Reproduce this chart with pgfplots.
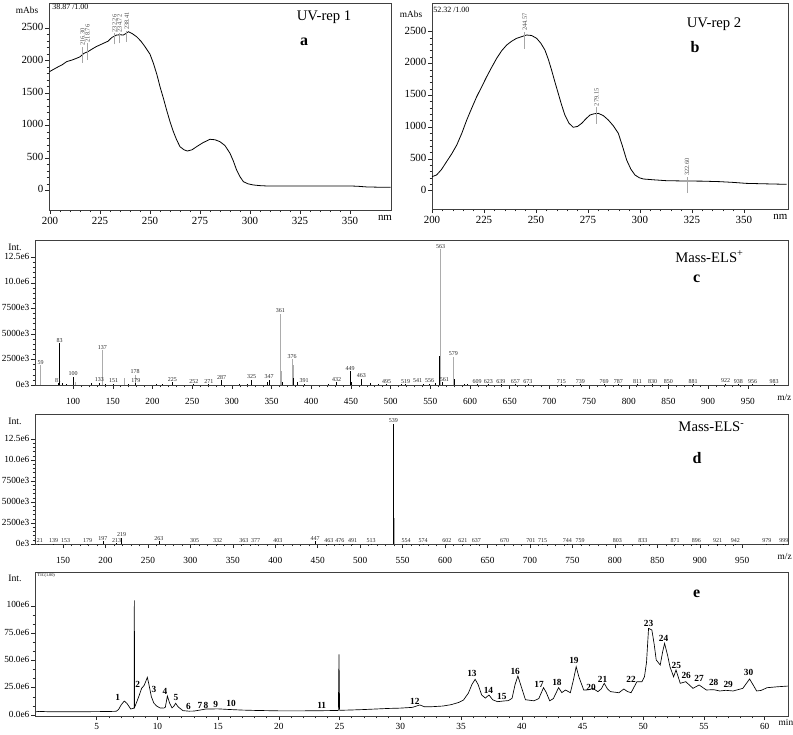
\documentclass[border=0pt]{standalone}
\usepackage{fontspec}
\setmainfont{Liberation Serif}
\usepackage{pgfplots}
\pgfplotsset{compat=1.18}
\newcommand{\fUV}{\fontsize{8.2}{9}\selectfont}
\newcommand{\fMS}{\fontsize{7}{8}\selectfont}
\newcommand{\fPk}{\fontsize{4.5}{5}\selectfont}
\newcommand{\fTitle}{\fontsize{11}{12}\selectfont}
\newcommand{\fLet}{\fontsize{12}{13}\selectfont\bfseries}
\pgfplotsset{
  panel/.style={
    scale only axis, anchor=north west,
    axis line style={black!75, line width=0.5pt},
    tick align=outside, xtick pos=bottom, ytick pos=left,
    major tick length=3pt, minor tick length=1.7pt,
    every tick/.style={black!85, line width=0.4pt},
    /pgf/number format/assume math mode=true,
    /pgf/number format/1000 sep={},
    every tick label/.append style={inner sep=1pt},
    typeset ticklabels with strut,
    clip=false,
  },
  uv/.style={panel,
    tick label style={font=\fUV},
    xtick={200,225,...,350}, minor x tick num=4,
    ytick={0,500,...,2500}, minor y tick num=4,
    extra x ticks={367.5}, extra x tick labels={nm},
    extra x tick style={major tick length=0pt},
  },
  ms/.style={panel,
    tick label style={font=\fMS},
    x tick label style={yshift=-5pt},
    xtick={100,150,...,950}, minor x tick num=4,
    ytick={0,2.5,5,7.5,10,12.5}, minor y tick num=4,
    yticklabels={0e3,2500e3,5000e3,7500e3,10.0e6,12.5e6},
    extra x tick style={major tick length=0pt},
  },
  bar/.style={ycomb, mark=none, line width=0.6pt},
  lbar/.style={bar, nodes near coords, point meta=explicit symbolic,
    every node near coord/.append style={font=\fPk, inner sep=0.4pt, black!85, anchor=south}},
}
\begin{document}
\begin{tikzpicture}
\useasboundingbox (0,0) rectangle (594.75pt,-551.25pt);

% ---------------- panel a ----------------
\begin{axis}[uv, at={(36.75pt,-2.25pt)}, width=256.5pt, height=155.25pt,
  xmin=199.5, xmax=370.5, ymin=-304, ymax=2890]
\addplot[black, line width=0.6pt] coordinates {
(199.7,1830)(202,1870)(204.2,1907)(206,1935)(208.3,1985)(211,2010)(213.3,2037)(215,2060)(217,2114)(219,2140)(220.8,2175)(223,2215)(226.7,2268)(229,2300)(231,2360)(233.3,2396)(235,2400)(236.7,2396)(238,2420)(239.2,2447)(241,2420)(243.3,2370)(245.5,2300)(247.5,2216)(250,2100)(251.7,1960)(253.5,1780)(255,1599)(256.7,1420)(258.3,1239)(260,1060)(261.7,904)(263.3,780)(265,673)(267,625)(268.7,606)(271,625)(273.3,673)(276.5,735)(280,787)(282.5,780)(285,750)(287.5,690)(290,571)(291.7,450)(293.3,313)(295,210)(296.7,133)(299,100)(301.7,82)(305,72)(308.3,67)(330,67)(350,67)(354,62)(358.3,52)(364,48)(370.3,46)};
\addplot[gray!70, line width=0.6pt] coordinates {(216.3,1969)(216.3,2216)};
\addplot[gray!70, line width=0.6pt] coordinates {(218.76,2010)(218.76,2268)};
\addplot[gray!70, line width=0.6pt] coordinates {(232.26,2252)(232.26,2422)};
\addplot[gray!70, line width=0.6pt] coordinates {(234.72,2268)(234.72,2422)};
\addplot[gray!70, line width=0.6pt] coordinates {(238.41,2293)(238.41,2462)};
\node[rotate=90, anchor=west, font=\fontsize{4.8}{5}\selectfont, inner sep=0.5pt, black!70] at (axis cs:216.3,2216) {216.30};
\node[rotate=90, anchor=west, font=\fontsize{4.8}{5}\selectfont, inner sep=0.5pt, black!70] at (axis cs:218.76,2268) {218.76};
\node[rotate=90, anchor=west, font=\fontsize{4.8}{5}\selectfont, inner sep=0.5pt, black!70] at (axis cs:232.26,2422) {232.26};
\node[rotate=90, anchor=west, font=\fontsize{4.8}{5}\selectfont, inner sep=0.5pt, black!70] at (axis cs:234.72,2422) {234.72};
\node[rotate=90, anchor=west, font=\fontsize{4.8}{5}\selectfont, inner sep=0.5pt, black!70] at (axis cs:238.41,2462) {238.41};
\end{axis}

% ---------------- panel b ----------------
\begin{axis}[uv, at={(324pt,-2.25pt)}, width=267pt, height=154.5pt,
  xmin=200, xmax=371.2, ymin=-288, ymax=2951]
\addplot[black, line width=0.6pt] coordinates {
(200,220)(202.2,247)(204.5,330)(207,456)(209.5,580)(211.9,718)(214.3,900)(216.7,1111)(219,1290)(221.5,1478)(224,1640)(226.3,1792)(228.7,1940)(231.1,2081)(233.5,2200)(235.9,2290)(238.3,2350)(240.7,2396)(243,2420)(245.5,2448)(247.9,2440)(250.3,2396)(252.3,2320)(254.3,2212)(256,2060)(257.5,1897)(259.1,1710)(260.7,1531)(262.3,1350)(263.9,1190)(265.9,1060)(267.9,997)(270,1010)(272,1059)(274,1130)(276,1190)(278,1210)(280,1216)(282.4,1180)(284.8,1111)(287.2,1020)(289.6,902)(291.6,700)(293.6,483)(295.6,340)(297.6,247)(299.6,205)(301.6,184)(307,170)(312.8,157)(322.4,152)(330,150)(338.4,142)(345,130)(351.2,115)(360,108)(370.5,100)};
\addplot[gray!70, line width=0.6pt] coordinates {(244.57,2232)(244.57,2500)};
\addplot[gray!70, line width=0.6pt] coordinates {(279.15,1053)(279.15,1314)};
\addplot[gray!70, line width=0.6pt] coordinates {(322.6,-38)(322.6,220)};
\node[rotate=90, anchor=west, font=\fontsize{4.8}{5}\selectfont, inner sep=0.5pt, black!70] at (axis cs:244.57,2500) {244.57};
\node[rotate=90, anchor=west, font=\fontsize{4.8}{5}\selectfont, inner sep=0.5pt, black!70] at (axis cs:279.15,1314) {279.15};
\node[rotate=90, anchor=west, font=\fontsize{4.8}{5}\selectfont, inner sep=0.5pt, black!70] at (axis cs:322.6,220) {322.60};
\end{axis}

% ---------------- panel c ----------------
\begin{axis}[ms, at={(26.25pt,-180pt)}, width=564.75pt, height=108.75pt,
  xmin=52, xmax=1000.6, ymin=0, ymax=14.19,
  extra x ticks={996}, extra x tick labels={m/z}]
\addplot[bar, gray!65] coordinates {(103,0.25)(165,0.65)(363,1.35)(378,2.0)};
\addplot[lbar, gray!65] coordinates {(59,1.95)[59] (137,3.4)[137] (178,1.0)[178] (361,6.95)[361] (376,2.5)[376] (563,13.3)[563] (579,2.75)[579]};
\addplot[bar, black] coordinates {(87,0.2)(91,0.1)(123,0.15)(141,0.1)(170,0.1)(205,0.05)(212,0.08)(309,0.05)(320,0.1)(345,0.3)(364,0.3)(377,0.65)(383,0.3)(422,0.05)(450,0.3)(475,0.2)(485,0.05)(513,0.05)(549,0.1)(562,2.85)(565,0.3)(580,0.6)(593,0.1)(597,0.08)};
\addplot[lbar, black] coordinates {(83,4.1)[83] (81,0.15)[81] (100,0.8)[100] (133,0.2)[133] (151,0.12)[151] (179,0.15)[179] (225,0.25)[225] (252,0.08)[252] (271,0.1)[271] (287,0.45)[287] (325,0.5)[325] (347,0.5)[347] (391,0.1)[391] (432,0.25)[432] (449,1.35)[449] (463,0.6)[463] (495,0.08)[495] (519,0.08)[519] (609,0.05)[609] (623,0.05)[623] (639,0.05)[639] (657,0.05)[657] (673,0.05)[673] (715,0.05)[715] (739,0.05)[739] (769,0.05)[769] (787,0.05)[787] (811,0.05)[811] (830,0.05)[830] (850,0.05)[850] (881,0.05)[881] (922,0.1)[922] (938,0.05)[938] (956,0.05)[956] (983,0.05)[983]};
\addplot[lbar, black, every node near coord/.append style={anchor=south east}] coordinates {(541,0.1)[541] (556,0.15)[556]};
\addplot[lbar, black, every node near coord/.append style={anchor=south west}] coordinates {(561,0.2)[561]};
\end{axis}

% ---------------- panel d ----------------
\begin{axis}[ms, at={(26.25pt,-310.5pt)}, width=564.75pt, height=97.5pt,
  xmin=117, xmax=1003.9, ymin=0, ymax=15.48,
  xtick={150,200,...,950},
  extra x ticks={1000}, extra x tick labels={m/z}]
\addplot[bar, gray!65] coordinates {(540,3.1)};
\addplot[lbar, black] coordinates {(539,14.3)[539] (121,0.05)[121] (139,0.05)[139] (153,0.05)[153] (179,0.05)[179] (197,0.35)[197] (213,0.1)[213] (219,0.75)[219] (263,0.35)[263] (305,0.05)[305] (332,0.05)[332] (363,0.05)[363] (377,0.05)[377] (403,0.05)[403] (447,0.3)[447] (463,0.05)[463] (476,0.05)[476] (491,0.05)[491] (513,0.05)[513] (554,0.05)[554] (574,0.05)[574] (602,0.05)[602] (621,0.05)[621] (637,0.05)[637] (670,0.05)[670] (701,0.05)[701] (715,0.05)[715] (744,0.05)[744] (759,0.05)[759] (803,0.05)[803] (833,0.05)[833] (871,0.05)[871] (896,0.05)[896] (921,0.05)[921] (942,0.05)[942] (979,0.05)[979] (999,0.05)[999]};
\end{axis}

% ---------------- panel e ----------------
\begin{axis}[panel, at={(26.25pt,-429pt)}, width=564.75pt, height=108pt,
  tick label style={font=\fMS},
  xmin=-0.08, xmax=61.92, ymin=-0.92, ymax=130.95,
  xtick={5,10,...,60}, minor x tick num=4,
  ytick={0,25,50,75,100}, minor y tick num=2,
  yticklabels={0.0e6,25.0e6,50.0e6,75.0e6,100e6},
  extra x ticks={61.75}, extra x tick labels={min},
  extra x tick style={major tick length=0pt}]
\addplot[black, line width=0.5pt] coordinates {
(0,3.0)(0.3,3.3)(1,3.0)(2,2.9)(3,3.0)(4,3.0)(5,3.1)(6,3.2)(6.6,3.4)(6.8,5.0)(7.0,9.0)(7.27,12.8)(7.5,10.5)(7.8,5.5)(8.0,6.0)(8.08,6.5)(8.1,105)(8.12,7.0)(8.3,12)(8.5,18)(8.7,24.4)(8.9,27)(9.05,31)(9.17,34.5)(9.3,28)(9.5,16.8)(9.7,11)(9.94,8.2)(10.2,6.5)(10.5,6.3)(10.65,7.0)(10.82,17.4)(11.0,11)(11.2,6.5)(11.35,8)(11.5,10.7)(11.7,7.5)(12.1,4.0)(12.6,3.5)(13.0,3.6)(13.5,4.5)(14.0,5.5)(15,5.6)(16,5.0)(17,4.5)(18,4.2)(20,3.8)(22,3.8)(24,4.0)(24.9,4.2)(24.95,55.6)(25.0,4.3)(26,4.6)(27,5.0)(28,5.5)(29,6.0)(30,6.3)(31,7.0)(31.6,9.2)(32.0,7.5)(32.6,7.6)(33.5,8.2)(34.2,9.5)(34.8,11.5)(35.2,13.7)(35.6,20)(35.9,28)(36.16,32.7)(36.4,28)(36.7,18.3)(37.0,15.5)(37.3,18.3)(37.6,14)(38.0,12.2)(38.5,12.8)(38.9,13.2)(39.2,15.3)(39.45,28)(39.68,35.7)(39.9,28)(40.3,14)(41.0,13)(41.4,15)(41.79,25)(42.0,21)(42.3,13)(42.6,15)(43.03,25)(43.3,20.5)(43.6,22.9)(44.0,20.4)(44.25,32)(44.48,44.2)(44.7,35)(45.1,22.9)(45.5,23)(45.85,24.4)(46.27,21.4)(46.55,24)(46.79,29)(47.05,24)(47.3,21.4)(48.0,20.4)(48.4,23.8)(48.7,21.5)(49.0,20.4)(49.48,30.5)(49.9,30.5)(50.1,35)(50.27,48)(50.44,79.4)(50.71,77.9)(50.9,65)(51.07,50.4)(51.4,45.8)(51.6,58)(51.76,65.6)(52.0,55)(52.2,44.3)(52.5,35)(52.7,41.2)(53.05,29)(53.5,30.5)(54.1,24.4)(54.6,27.5)(55.2,22.9)(55.8,23.2)(56.3,22.0)(56.8,22.6)(57.4,22)(58.2,24.4)(58.76,33)(59.34,22)(59.7,22.5)(60.2,25)(61.0,25.8)(61.9,26.5)};
\begin{scope}[every node/.style={font=\fontsize{7}{8}\selectfont\bfseries, inner sep=0pt}]
\node at (axis cs:6.73,16.2) {1};
\node at (axis cs:8.37,28.4) {2};
\node at (axis cs:9.72,23.8) {3};
\node at (axis cs:10.63,22) {4};
\node at (axis cs:11.53,16.2) {5};
\node at (axis cs:12.55,8.2) {6};
\node at (axis cs:13.5,8.5) {7};
\node at (axis cs:14.0,9) {8};
\node at (axis cs:14.8,9.5) {9};
\node at (axis cs:16.06,11) {10};
\node at (axis cs:23.53,9.2) {11};
\node at (axis cs:31.2,12.2) {12};
\node at (axis cs:35.9,38.2) {13};
\node at (axis cs:37.26,22.9) {14};
\node at (axis cs:38.36,17.4) {15};
\node at (axis cs:39.46,39.7) {16};
\node at (axis cs:41.43,28.1) {17};
\node at (axis cs:42.9,29.6) {18};
\node at (axis cs:44.3,49.5) {19};
\node at (axis cs:45.7,25.3) {20};
\node at (axis cs:46.65,33) {21};
\node at (axis cs:49.0,33) {22};
\node at (axis cs:50.44,84) {23};
\node at (axis cs:51.67,70.2) {24};
\node at (axis cs:52.72,45.8) {25};
\node at (axis cs:53.54,36.6) {26};
\node at (axis cs:54.6,33.6) {27};
\node at (axis cs:55.8,29.6) {28};
\node at (axis cs:57.0,28.1) {29};
\node at (axis cs:58.67,39.1) {30};
\end{scope}
\end{axis}

% ---------------- annotations ----------------
\node[font=\fontsize{7}{8}\selectfont] at (20.25pt,-7.5pt) {mAbs};
\node[font=\fontsize{6}{7}\selectfont, anchor=west, inner sep=0pt] at (39pt,-5.25pt) {38.87 /1.00};
\node[font=\fTitle] at (243pt,-12.75pt) {UV-rep 1};
\node[font=\fLet] at (228pt,-31.5pt) {a};
\node[font=\fontsize{7}{8}\selectfont] at (308.25pt,-10.5pt) {mAbs};
\node[font=\fontsize{6}{7}\selectfont, anchor=west, inner sep=0pt] at (324.75pt,-7.5pt) {52.32 /1.00};
\node[font=\fTitle] at (535.5pt,-18pt) {UV-rep 2};
\node[font=\fLet] at (521.25pt,-35.25pt) {b};
\node[font=\fontsize{7.3}{8}\selectfont] at (11.25pt,-185.25pt) {Int.};
\node[font=\fTitle] at (532.1pt,-192.5pt) {Mass-ELS\textsuperscript{+}};
\node[font=\fLet] at (522.5pt,-208.75pt) {c};
\node[font=\fontsize{7.3}{8}\selectfont] at (11.25pt,-315.75pt) {Int.};
\node[font=\fTitle] at (533.6pt,-320pt) {Mass-ELS\textsuperscript{-}};
\node[font=\fLet] at (522.75pt,-343.5pt) {d};
\node[font=\fontsize{7.3}{8}\selectfont] at (11.25pt,-433.5pt) {Int.};
\node[font=\fontsize{3.2}{4}\selectfont, anchor=north west, inner sep=0.6pt] at (27.5pt,-429pt) {TIC(1.00)};
\node[font=\fLet] at (522.5pt,-445pt) {e};
\end{tikzpicture}
\end{document}
